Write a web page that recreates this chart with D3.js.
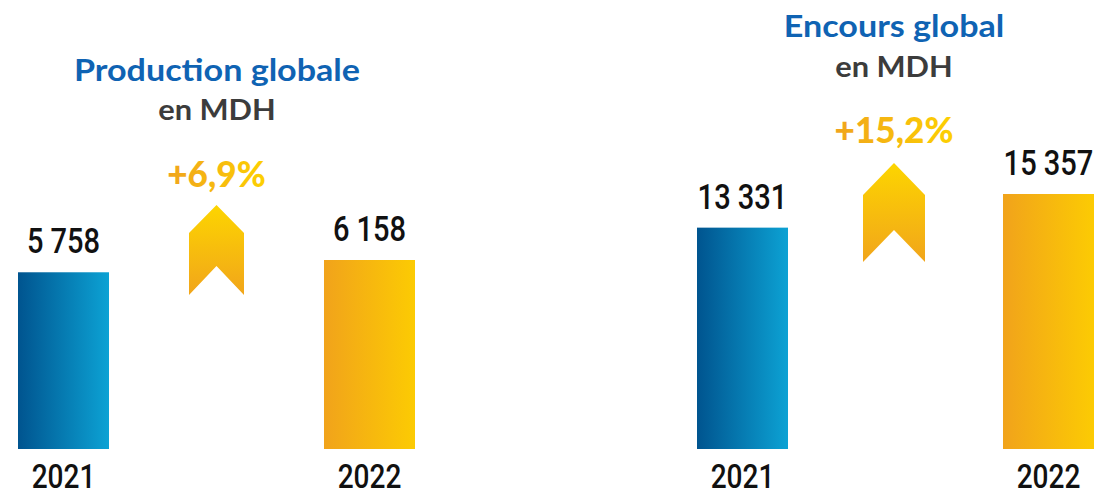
<!DOCTYPE html>
<html>
<head>
<meta charset="utf-8">
<script src="https://cdn.jsdelivr.net/npm/d3@7/dist/d3.min.js"></script>
<style>
  html, body { margin: 0; padding: 0; background: #fff; }
  svg { display: block; }
</style>
</head>
<body>
<svg id="chart" width="1094" height="496"></svg>
<script>
// ---- data ----
const years = ["2021", "2022"];
const productionValues = [5758, 6158];
const encoursValues = [13331, 15357];
const panelTitles = ["Production globale", "Encours global"];
const panelSubtitles = ["en MDH", "en MDH"];
const growthLabels = ["+6,9%", "+15,2%"];

const fmt = v => d3.format(",")(v).replace(/,/g, " ");

const svg = d3.select("#chart");
const defs = svg.append("defs");

function hGrad(id, c1, c2) {
  const g = defs.append("linearGradient").attr("id", id)
    .attr("x1", "0%").attr("y1", "0%").attr("x2", "100%").attr("y2", "0%");
  g.append("stop").attr("offset", "0%").attr("stop-color", c1);
  g.append("stop").attr("offset", "100%").attr("stop-color", c2);
}
function vGrad(id, c1, c2) {
  const g = defs.append("linearGradient").attr("id", id)
    .attr("x1", "0%").attr("y1", "0%").attr("x2", "0%").attr("y2", "100%");
  g.append("stop").attr("offset", "0%").attr("stop-color", c1);
  g.append("stop").attr("offset", "100%").attr("stop-color", c2);
}
hGrad("gBlue", "#00548f", "#0ca2d4");
hGrad("gGold", "#f1a31b", "#fccb03");
hGrad("gPct", "#f0a41d", "#fdd000");
vGrad("gArrow", "#fdd500", "#f1a51b");

const baseY = 449;
const numFont = "Roboto, 'Liberation Sans', sans-serif";
const titleFont = "Lato, 'Open Sans', sans-serif";

// text drawn at (x,y) with a horizontal stretch factor
function stretchedText(parent, x, y, sx, str) {
  return parent.append("text")
    .attr("transform", `translate(${x},${y}) scale(${sx},1)`)
    .attr("text-anchor", "middle")
    .text(str);
}

const panels = [
  { values: productionValues, range: [18, 415], top: 260, title: panelTitles[0], sub: panelSubtitles[0], pct: growthLabels[0],
    titleX: 217, titleY: 81, subY: 120, pctY: 187,
    arrow: { cx: 216.5, top: 205, w: 55, shoulder: 28, h: 90, notch: 61 } },
  { values: encoursValues, range: [697, 1094], top: 194, title: panelTitles[1], sub: panelSubtitles[1], pct: growthLabels[1],
    titleX: 894, titleY: 37, subY: 77, pctY: 143,
    arrow: { cx: 894, top: 163, w: 62, shoulder: 32, h: 99, notch: 67 } }
];

panels.forEach(p => {
  const x = d3.scaleBand().domain(years).range(p.range).paddingInner(0.7026).paddingOuter(0);
  const y = d3.scaleLinear().domain([0, d3.max(p.values)]).range([baseY, p.top]);
  const g = svg.append("g");

  g.selectAll("rect.bar").data(years).join("rect")
    .attr("class", "bar")
    .attr("x", d => x(d))
    .attr("width", x.bandwidth())
    .attr("y", (d, i) => y(p.values[i]))
    .attr("height", (d, i) => baseY - y(p.values[i]))
    .attr("fill", (d, i) => i === 0 ? "url(#gBlue)" : "url(#gGold)");

  years.forEach((d, i) => {
    const cx = x(d) + x.bandwidth() / 2;
    stretchedText(g, cx, y(p.values[i]) - 19, 0.83, fmt(p.values[i]))
      .attr("font-family", numFont).attr("font-weight", 500)
      .attr("font-size", 35).attr("fill", "#111");
    stretchedText(g, cx, 488, 0.85, d)
      .attr("font-family", numFont).attr("font-weight", 500)
      .attr("font-size", 33).attr("fill", "#111");
  });

  stretchedText(g, p.titleX, p.titleY, 1.1, p.title)
    .attr("font-family", titleFont).attr("font-weight", "bold").attr("font-size", 31)
    .attr("fill", "#0f63b3");

  stretchedText(g, p.titleX, p.subY, 1.1, p.sub)
    .attr("font-family", titleFont).attr("font-weight", "bold").attr("font-size", 28)
    .attr("fill", "#3c3c3c");

  stretchedText(g, p.arrow.cx, p.pctY, 0.95, p.pct)
    .attr("font-family", titleFont).attr("font-weight", 900).attr("font-size", 37)
    .attr("fill", "url(#gPct)");

  const a = p.arrow;
  const l = a.cx - a.w / 2, r = a.cx + a.w / 2;
  const pts = [[l, a.top + a.shoulder], [a.cx, a.top], [r, a.top + a.shoulder],
               [r, a.top + a.h], [a.cx, a.top + a.notch], [l, a.top + a.h]];
  g.append("path")
    .attr("d", d3.line()(pts) + "Z")
    .attr("fill", "url(#gArrow)");
});
</script>
</body>
</html>
